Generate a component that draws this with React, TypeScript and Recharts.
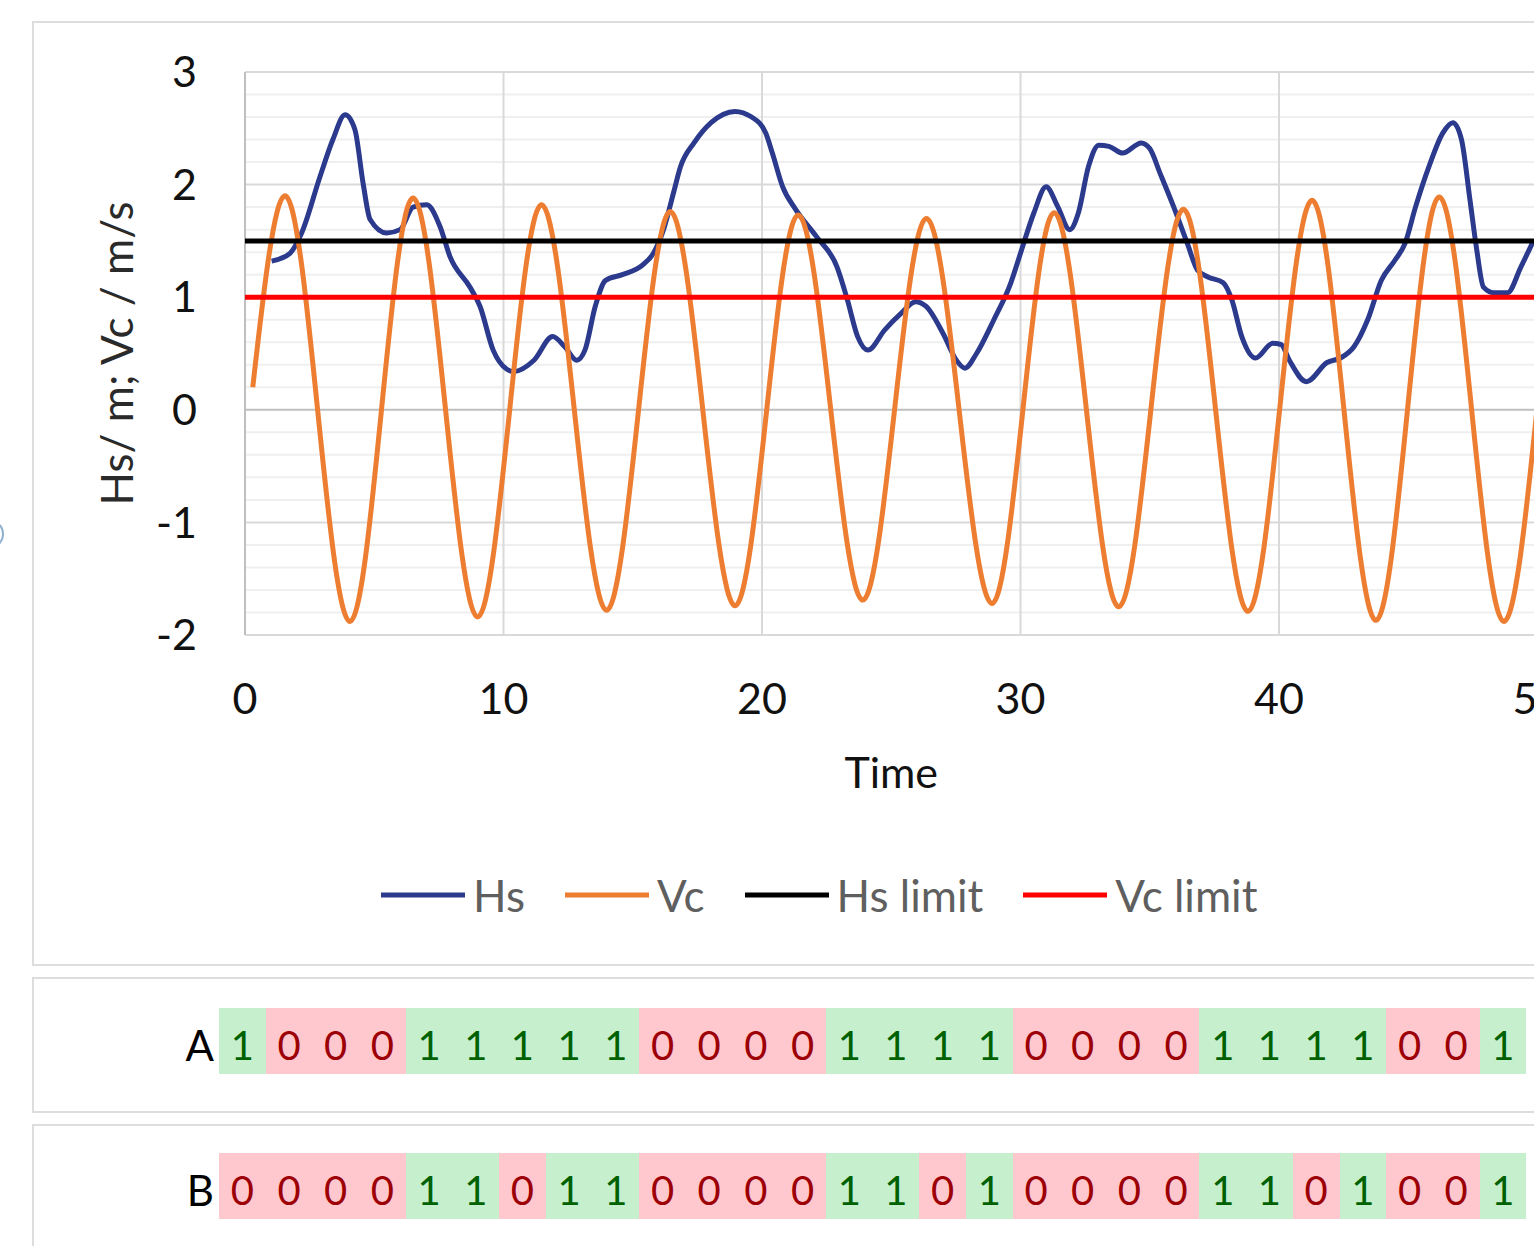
import React from 'react';
import { LineChart, Line, XAxis, YAxis, ReferenceLine, Legend, Label } from 'recharts';

// ---------- data ----------
const timeTicks = [0, 10, 20, 30, 40, 50];
const valueTicks = [-2, -1, 0, 1, 2, 3];
const minorValueLines = [
  -1.8, -1.6, -1.4, -1.2, -0.8, -0.6, -0.4, -0.2, 0.2, 0.4, 0.6, 0.8,
  1.2, 1.4, 1.6, 1.8, 2.2, 2.4, 2.6, 2.8,
];
const majorValueLines = [-2, -1, 1, 2, 3];
const majorTimeLines = [10, 20, 30, 40, 50];

const hsTime = [
  1.03, 1.74, 2.19, 2.9, 3.4, 3.87, 4.25, 4.57, 4.84, 5.48, 6.0, 6.5, 7.03, 7.54, 7.93,
  8.7, 9.09, 9.6, 10.13, 10.4, 11.18, 11.9, 12.37, 12.83, 13.15, 13.55, 13.95, 14.6,
  15.4, 15.8, 16.19, 16.58, 16.85, 17.37, 18.03, 18.95, 19.6, 20.14, 20.4, 20.8, 21.3,
  22.1, 22.9, 23.3, 23.7, 24.1, 24.75, 25.4, 25.94, 26.34, 27.0, 27.52, 27.85, 28.3,
  28.97, 29.63, 30.0, 30.52, 30.99, 31.45, 31.9, 32.24, 32.63, 33.03, 33.42, 33.95,
  34.67, 35.0, 35.4, 35.93, 36.45, 36.85, 37.25, 37.83, 38.17, 38.56, 39.09, 39.75,
  40.08, 40.4, 41.06, 41.86, 42.38, 42.9, 43.43, 43.96, 44.49, 44.88, 45.28, 45.8,
  46.34, 46.73, 47.06, 47.39, 47.65, 47.91, 48.31, 48.84, 49.36, 49.86,
];
const hsValue = [
  1.32, 1.39, 1.57, 2.07, 2.4, 2.62, 2.49, 2.01, 1.69, 1.57, 1.6, 1.8, 1.82, 1.63, 1.36,
  1.09, 0.92, 0.53, 0.36, 0.34, 0.44, 0.65, 0.56, 0.44, 0.53, 0.92, 1.15, 1.2,
  1.29, 1.39, 1.6, 1.93, 2.16, 2.37, 2.55, 2.65, 2.6, 2.46, 2.28, 1.98, 1.78,
  1.54, 1.27, 0.98, 0.65, 0.53, 0.71, 0.86, 0.96, 0.92, 0.68, 0.44, 0.37, 0.5,
  0.8, 1.13, 1.39, 1.75, 1.98, 1.8, 1.6, 1.75, 2.16, 2.35, 2.34, 2.28,
  2.37, 2.32, 2.1, 1.8, 1.48, 1.24, 1.18, 1.13, 0.98, 0.65, 0.46, 0.59,
  0.58, 0.44, 0.25, 0.42, 0.46, 0.56, 0.8, 1.15, 1.33, 1.48, 1.8, 2.16,
  2.46, 2.55, 2.4, 1.86, 1.42, 1.09, 1.04, 1.04, 1.27, 1.51,
];

const vcTime = [
  0.3, 1.55, 4.06, 6.5, 9.0, 11.47, 13.99, 16.45, 18.96, 21.4, 23.9, 26.36, 28.9,
  31.3, 33.8, 36.3, 38.8, 41.28, 43.75, 46.2, 48.7, 50.0,
];
const vcValue = [
  0.2, 1.9, -1.88, 1.88, -1.84, 1.82, -1.78, 1.76, -1.74, 1.73, -1.69, 1.7, -1.72,
  1.75, -1.75, 1.78, -1.79, 1.86, -1.87, 1.89, -1.88, 0.05,
];

const limitTime = [0, 50];
const hsLimitValue = 1.5;
const vcLimitValue = 1.0;

const seriesNames = ['Hs', 'Vc', 'Hs limit', 'Vc limit'];

const rowA = [1, 0, 0, 0, 1, 1, 1, 1, 1, 0, 0, 0, 0, 1, 1, 1, 1, 0, 0, 0, 0, 1, 1, 1, 1, 0, 0, 1];
const rowB = [0, 0, 0, 0, 1, 1, 0, 1, 1, 0, 0, 0, 0, 1, 1, 0, 1, 0, 0, 0, 0, 1, 1, 0, 1, 0, 0, 1];

// ---------- derived tables ----------
const hsData = hsTime.map((t, i) => ({ t, v: hsValue[i] }));
const vcData = vcTime.map((t, i) => ({ t, v: vcValue[i] }));
const hsLimitData = limitTime.map((t) => ({ t, v: hsLimitValue }));
const vcLimitData = limitTime.map((t) => ({ t, v: vcLimitValue }));

// ---------- styles ----------
const FONT = 'Lato, "Open Sans", sans-serif';
const HS_COLOR = '#2b3a8c';
const VC_COLOR = '#ed7d31';
const HS_LIMIT_COLOR = '#000000';
const VC_LIMIT_COLOR = '#ff0000';
const seriesColors = [HS_COLOR, VC_COLOR, HS_LIMIT_COLOR, VC_LIMIT_COLOR];
const BOX_BORDER = '2px solid #dddddd';

const YAxisTitle = (props: any) => {
  const vb = props.viewBox || { x: 80, y: 72, width: 165, height: 563 };
  const cx = vb.x + 36;
  const cy = vb.y + vb.height / 2;
  return (
    <text
      x={cx}
      y={cy}
      transform={`rotate(-90, ${cx}, ${cy})`}
      textAnchor="middle"
      dominantBaseline="central"
      fontSize={44}
      fill="#2a2a2a"
      fontFamily={FONT}
    >
      Hs/ m; Vc / m/s
    </text>
  );
};

const LegendContent = () => (
  <div style={{ display: 'flex', alignItems: 'center', whiteSpace: 'nowrap', fontFamily: FONT }}>
    {seriesNames.map((name, i) => (
      <div key={name} style={{ display: 'flex', alignItems: 'center', marginRight: 40 }}>
        <svg width={84} height={6} style={{ display: 'block' }}>
          <line x1={0} y1={3} x2={84} y2={3} stroke={seriesColors[i]} strokeWidth={5} />
        </svg>
        <span style={{ marginLeft: 8, fontSize: 44, color: '#5f5f5f', lineHeight: '50px' }}>{name}</span>
      </div>
    ))}
  </div>
);

const CellRow = ({ label, values, top }: { label: string; values: number[]; top: number }) => (
  <>
    <div
      style={{
        position: 'absolute',
        left: 150,
        top,
        width: 64,
        height: 66,
        textAlign: 'right',
        fontSize: 42,
        lineHeight: '66px',
        paddingTop: 4,
        boxSizing: 'border-box',
        color: '#000',
        fontFamily: FONT,
      }}
    >
      {label}
    </div>
    <div style={{ position: 'absolute', left: 219, top, display: 'flex' }}>
      {values.map((v, i) => (
        <div
          key={i}
          style={{
            width: 46.7,
            height: 66,
            background: v === 1 ? '#c6efce' : '#ffc7ce',
            color: v === 1 ? '#006100' : '#9c0006',
            fontSize: 40,
            lineHeight: '66px',
            paddingTop: 4,
            boxSizing: 'border-box',
            textAlign: 'center',
            fontFamily: FONT,
          }}
        >
          {v}
        </div>
      ))}
    </div>
  </>
);

export default function App() {
  return (
    <div
      style={{
        position: 'fixed',
        left: 0,
        top: 0,
        width: 1534,
        height: 1246,
        overflow: 'hidden',
        background: '#ffffff',
        fontFamily: FONT,
      }}
    >
      {/* selection handle fragment at the left edge */}
      <div
        style={{
          position: 'absolute',
          left: -18,
          top: 521,
          width: 18,
          height: 22,
          borderRadius: '50%',
          border: '2px solid #8fb0cf',
        }}
      />
      {/* chart frame */}
      <div
        style={{
          position: 'absolute',
          left: 32,
          top: 21,
          width: 1650,
          height: 945,
          border: BOX_BORDER,
          boxSizing: 'border-box',
        }}
      />
      <div style={{ position: 'absolute', left: 0, top: 0 }}>
        <LineChart
          width={1600}
          height={970}
          margin={{ top: 72, right: 62.5, left: 80, bottom: 175 }}
        >
          <XAxis
            dataKey="t"
            type="number"
            domain={[0, 50]}
            ticks={timeTicks}
            axisLine={false}
            tickLine={false}
            tickSize={0}
            tickMargin={48}
            height={160}
            tick={{ fontSize: 43, fill: '#111111', fontFamily: FONT }}
            allowDataOverflow
          >
            <Label
              value="Time"
              position="insideBottom"
              offset={7}
              style={{ fontSize: 43, fill: '#111111', fontFamily: FONT }}
            />
          </XAxis>
          <YAxis
            type="number"
            domain={[-2, 3]}
            ticks={valueTicks}
            axisLine={false}
            tickLine={false}
            tickSize={0}
            tickMargin={48}
            width={165}
            tick={{ fontSize: 43, fill: '#111111', fontFamily: FONT }}
            allowDataOverflow
          >
            <Label content={YAxisTitle} />
          </YAxis>

          {minorValueLines.map((y) => (
            <ReferenceLine key={`mn${y}`} y={y} stroke="#efefef" strokeWidth={2} />
          ))}
          {majorValueLines.map((y) => (
            <ReferenceLine key={`mj${y}`} y={y} stroke="#d9d9d9" strokeWidth={2} />
          ))}
          {majorTimeLines.map((x) => (
            <ReferenceLine key={`vx${x}`} x={x} stroke="#d9d9d9" strokeWidth={2} />
          ))}
          <ReferenceLine y={0} stroke="#bfbfbf" strokeWidth={2} />
          <ReferenceLine x={0} stroke="#bfbfbf" strokeWidth={2} />

          <Line
            data={hsData}
            dataKey="v"
            name={seriesNames[0]}
            type="monotone"
            stroke={HS_COLOR}
            strokeWidth={5}
            dot={false}
            activeDot={false}
            isAnimationActive={false}
          />
          <Line
            data={vcData}
            dataKey="v"
            name={seriesNames[1]}
            type="monotone"
            stroke={VC_COLOR}
            strokeWidth={5}
            dot={false}
            activeDot={false}
            isAnimationActive={false}
          />
          <Line
            data={hsLimitData}
            dataKey="v"
            name={seriesNames[2]}
            type="linear"
            stroke={HS_LIMIT_COLOR}
            strokeWidth={5}
            dot={false}
            activeDot={false}
            isAnimationActive={false}
          />
          <Line
            data={vcLimitData}
            dataKey="v"
            name={seriesNames[3]}
            type="linear"
            stroke={VC_LIMIT_COLOR}
            strokeWidth={5}
            dot={false}
            activeDot={false}
            isAnimationActive={false}
          />
          <Legend
            layout="horizontal"
            verticalAlign="middle"
            align="center"
            wrapperStyle={{ position: 'absolute', left: 381, top: 870, width: 'auto', height: 50 }}
            content={LegendContent}
          />
        </LineChart>
      </div>

      {/* table box A */}
      <div
        style={{
          position: 'absolute',
          left: 32,
          top: 977,
          width: 1650,
          height: 136,
          border: BOX_BORDER,
          boxSizing: 'border-box',
        }}
      />
      <CellRow label="A" values={rowA} top={1008} />
      {/* table box B */}
      <div
        style={{
          position: 'absolute',
          left: 32,
          top: 1124,
          width: 1650,
          height: 200,
          border: BOX_BORDER,
          boxSizing: 'border-box',
        }}
      />
      <CellRow label="B" values={rowB} top={1153} />
    </div>
  );
}
